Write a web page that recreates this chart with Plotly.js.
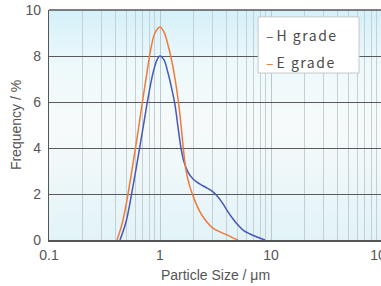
<!DOCTYPE html>
<html>
<head>
<meta charset="utf-8">
<script src="https://cdn.plot.ly/plotly-3.0.1.min.js"></script>
<style>
html,body{margin:0;padding:0;overflow:hidden;background:#fff;}
#chart{width:400px;height:286px;}
</style>
</head>
<body>
<div id="chart"></div>
<script>
// Series names
var seriesNames = ["H grade", "E grade"];
var seriesColors = ["#4858b8", "#f07a3a"];

// H grade: particle size (µm) and frequency (%)
var hSize = [0.436, 0.494, 0.559, 0.633, 0.703, 0.780, 0.865, 0.940, 1.0, 1.086, 1.181, 1.283, 1.365, 1.453, 1.546, 1.645, 1.788, 1.983, 2.293, 2.65, 3.0, 3.33, 3.70, 4.10, 4.55, 5.04, 5.60, 6.47, 7.48, 8.83];
var hFreq = [0, 0.78, 2.09, 3.57, 4.87, 6.17, 7.26, 7.83, 8.0, 7.83, 7.26, 6.52, 5.87, 4.91, 4.0, 3.40, 2.95, 2.65, 2.43, 2.26, 2.09, 1.87, 1.57, 1.22, 0.91, 0.65, 0.43, 0.26, 0.13, 0];

// E grade
var eSize = [0.410, 0.455, 0.504, 0.559, 0.621, 0.688, 0.764, 0.830, 0.901, 1.0, 1.086, 1.181, 1.283, 1.394, 1.514, 1.611, 1.715, 1.863, 2.066, 2.293, 2.597, 3.0, 3.47, 4.01, 4.55, 5.04];
var eFreq = [0, 0.70, 1.74, 3.04, 4.43, 5.87, 7.30, 8.35, 9.0, 9.26, 9.04, 8.48, 7.74, 6.74, 5.43, 4.13, 3.04, 2.30, 1.70, 1.22, 0.83, 0.52, 0.35, 0.22, 0.09, 0];

// Axis ticks
var xTickVals = [0.1, 1, 10, 100];
var xTickText = ["0.1", "1", "10", "100"];
var yTickVals = [0, 2, 4, 6, 8, 10];

var minorVals = [];
[0.1, 1, 10].forEach(function (d) {
  for (var k = 2; k <= 9; k++) minorVals.push(d * k);
});

var traces = [
  {x: hSize, y: hFreq, name: seriesNames[0], type: "scatter", mode: "lines",
   line: {color: seriesColors[0], width: 1.5, shape: "spline", smoothing: 1}},
  {x: eSize, y: eFreq, name: seriesNames[1], type: "scatter", mode: "lines",
   line: {color: seriesColors[1], width: 1.5, shape: "spline", smoothing: 1}}
];

var bg = "data:image/svg+xml;utf8," + encodeURIComponent(
  '<svg xmlns="http://www.w3.org/2000/svg" width="100" height="100" preserveAspectRatio="none">' +
  '<defs><linearGradient id="g" x1="0" y1="0" x2="0" y2="1">' +
  '<stop offset="0" stop-color="#d4f0f9"/>' +
  '<stop offset="0.25" stop-color="#eef9fb"/>' +
  '<stop offset="0.5" stop-color="#f7fafa"/>' +
  '<stop offset="1" stop-color="#e2f3f8"/>' +
  '</linearGradient></defs><rect width="100" height="100" fill="url(#g)"/></svg>');

var fam = "Liberation Sans, Arial, sans-serif";
var axisFont = {family: fam, size: 14, color: "#555"};

var layout = {
  width: 400, height: 286,
  margin: {l: 49, r: 18, t: 10, b: 46},
  paper_bgcolor: "#ffffff",
  plot_bgcolor: "rgba(0,0,0,0)",
  showlegend: false,
  images: [{source: bg, xref: "paper", yref: "paper", x: 0, y: 1, sizex: 1, sizey: 1,
            sizing: "stretch", xanchor: "left", yanchor: "top", layer: "below"}],
  xaxis: {
    type: "log", range: [-1, 2], tickvals: xTickVals, ticktext: xTickText,
    showgrid: true, gridcolor: "#b9c9cc", gridwidth: 1,
    minor: {tickvals: minorVals, showgrid: true, gridcolor: "#c3d1d4", gridwidth: 1, ticks: ""},
    ticks: "", showline: true, linecolor: "#555", linewidth: 1.5,
    tickfont: axisFont, zeroline: false, ticklabelstandoff: 2,
    title: {text: "Particle Size / μm", font: {family: fam, size: 14, color: "#555"}, standoff: 8}
  },
  yaxis: {
    range: [0, 10], tickvals: yTickVals,
    showgrid: true, gridcolor: "#5a5a5a", gridwidth: 1,
    ticks: "", showline: true, linecolor: "#555", linewidth: 1.2,
    tickfont: axisFont, zeroline: false, ticklabelstandoff: 4,
    title: {text: "Frequency / %", font: {family: fam, size: 14, color: "#555"}, standoff: 0}
  },
  shapes: [
    {type: "line", xref: "paper", yref: "paper", x0: 0, x1: 1, y0: 1, y1: 1,
     line: {color: "#555", width: 1.5}},
    {type: "rect", xref: "paper", yref: "paper", x0: 0.628, x1: 0.931, y0: 0.726, y1: 0.970,
     fillcolor: "#ffffff", line: {color: "#c8c8c8", width: 1}, layer: "above"}
  ],
  annotations: [0, 1].map(function (i) {
    return {
      xref: "paper", yref: "paper", x: 0.647, y: i === 0 ? 0.891 : 0.774,
      xanchor: "left", yanchor: "middle", showarrow: false,
      text: '<span style="color:' + seriesColors[i] + ';letter-spacing:3px">–</span><span style="letter-spacing:1.5px">' + seriesNames[i] + '</span>',
      font: {family: "Noto Sans CJK JP, Noto Sans, sans-serif", size: 14, color: "#4a4a4a"}
    };
  })
};

Plotly.newPlot("chart", traces, layout, {staticPlot: true, displayModeBar: false});
</script>
</body>
</html>
